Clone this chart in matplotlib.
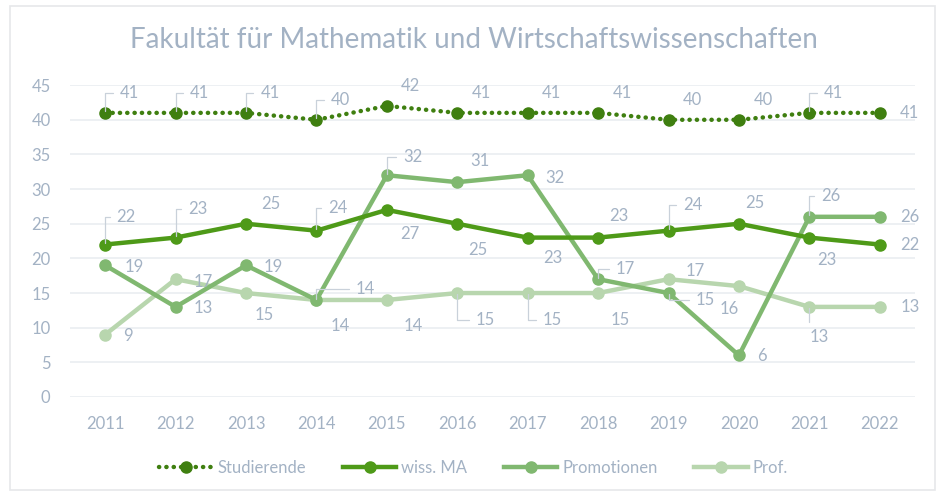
import matplotlib
matplotlib.use("Agg")
import matplotlib.pyplot as plt
from matplotlib.patches import Rectangle

plt.rcParams['font.family'] = ['Lato', 'DejaVu Sans']

years = ['2011', '2012', '2013', '2014', '2015', '2016', '2017', '2018', '2019', '2020', '2021', '2022']
studierende = [41, 41, 41, 40, 42, 41, 41, 41, 40, 40, 41, 41]
wiss_ma = [22, 23, 25, 24, 27, 25, 23, 23, 24, 25, 23, 22]
promotionen = [19, 13, 19, 14, 32, 31, 32, 17, 15, 6, 26, 26]
prof = [9, 17, 15, 14, 14, 15, 15, 15, 17, 16, 13, 13]

# label offsets in pixels (dx, dy), and whether a leader line is drawn
off_stud = [(24, 20)] * 11 + [(30, 0)]
lead_stud = [1, 1, 1, 1, 0, 0, 0, 0, 0, 0, 1, 0]
off_ma = [(21, 28), (22, 29), (25, 20), (21, 23), (23, -24), (21, -26), (25, -20),
          (21, 22), (24, 26), (16, 21), (17, -22), (30, 0)]
lead_ma = [1, 1, 0, 1, 0, 0, 0, 0, 1, 0, 0, 0]
off_prom = [(29, -2), (28, -1), (27, -2), (49, 11), (26, 18), (23, 21), (27, -3),
            (27, 10), (37, -7), (23, -1), (21, 21), (30, 0)]
lead_prom = [0, 0, 0, 1, 1, 0, 0, 1, 1, 0, 1, 0]
off_prof = [(23, -1), (28, -3), (18, -22), (24, -26), (26, -26), (28, -27), (25, -27),
            (22, -27), (27, 8), (-10, -23), (10, -30), (30, 0)]
lead_prof = [0, 0, 0, 0, 0, 1, 1, 0, 0, 0, 1, 0]

txt = '#A3B2C4'
c_stud = '#3F7F10'
c_ma = '#4E9A18'
c_prom = '#80B870'
c_prof = '#B8D6AE'

fig = plt.figure(figsize=(9.47, 4.95), dpi=100)
fig.patches.append(Rectangle((0.011, 0.01), 0.976, 0.978, transform=fig.transFigure,
                             fill=False, edgecolor='#E6E8EA', linewidth=1.2))
ax = fig.add_axes([0.0739, 0.198, 0.8923, 0.630])

x = list(range(len(years)))
ax.plot(x, studierende, color=c_stud, linestyle=(0, (0.05, 1.6)), linewidth=3.2,
        dash_capstyle='round', marker='o', markersize=8, label='Studierende', zorder=5)
ax.plot(x, wiss_ma, color=c_ma, linewidth=3.2, marker='o', markersize=8,
        label='wiss. MA', zorder=4)
ax.plot(x, promotionen, color=c_prom, linewidth=3.2, marker='o', markersize=8,
        label='Promotionen', zorder=3)
ax.plot(x, prof, color=c_prof, linewidth=3.2, marker='o', markersize=8,
        label='Prof.', zorder=2)

def labels(vals, offs, leads):
    for i, v in enumerate(vals):
        dx, dy = offs[i]
        ap = None
        if leads[i]:
            ap = dict(arrowstyle='-', color='#C9D1DA', lw=0.9, shrinkA=3, shrinkB=1,
                      connectionstyle='angle,angleA=0,angleB=90,rad=0')
        ax.annotate(str(v), (i, v), xytext=(dx, dy), textcoords='offset pixels',
                    ha='center', va='center', fontsize=12, color=txt,
                    arrowprops=ap, zorder=6)

labels(studierende, off_stud, lead_stud)
labels(wiss_ma, off_ma, lead_ma)
labels(promotionen, off_prom, lead_prom)
labels(prof, off_prof, lead_prof)

ax.set_xlim(-0.5, len(years) - 0.5)
ax.set_ylim(0, 45)
ax.set_yticks(range(0, 50, 5))
ax.set_xticks(x)
ax.set_xticklabels(years)
ax.grid(axis='y', color='#EAEEF1', linewidth=1.2)
ax.set_axisbelow(True)
for s in ax.spines.values():
    s.set_visible(False)
ax.tick_params(length=0, colors=txt, labelsize=12)
ax.tick_params(axis='x', pad=14)
ax.tick_params(axis='y', pad=14)

fig.text(0.5, 0.92, 'Fakultät für Mathematik und Wirtschaftswissenschaften',
         ha='center', va='center', fontsize=20, color=txt)

fig.legend(loc='center', bbox_to_anchor=(0.5, 0.055), ncol=4, frameon=False,
           fontsize=12, labelcolor=txt, handlelength=3.2, columnspacing=2.2,
           handletextpad=0.3)

fig.savefig('out.png', dpi=100)
